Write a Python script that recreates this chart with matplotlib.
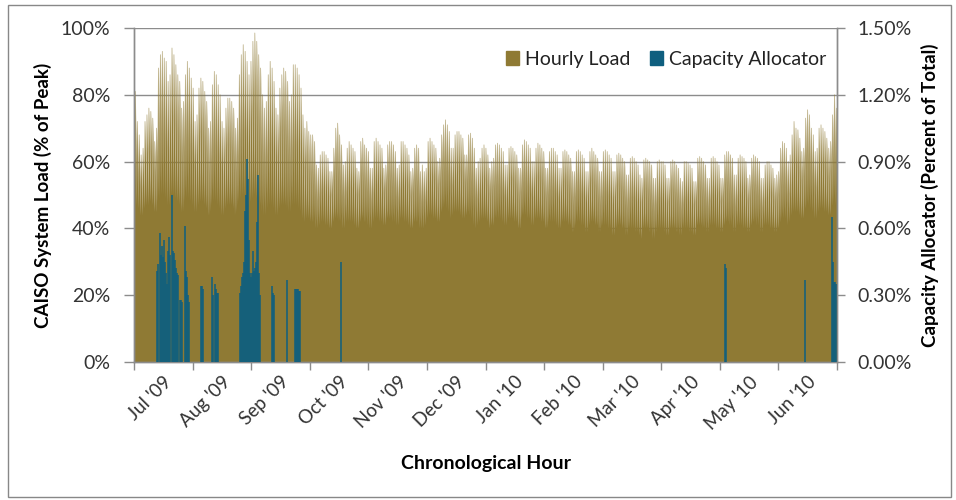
import numpy as np
import matplotlib
matplotlib.use("Agg")
import matplotlib.pyplot as plt
from matplotlib.patches import Patch, Rectangle
from matplotlib.ticker import PercentFormatter

plt.rcParams['font.family'] = ['Lato', 'DejaVu Sans']

# daily peak load, % of annual peak (Jul 2009 - Jun 2010)
peak_jul = [81, 72, 68, 62, 64, 72, 74, 76, 75, 73, 66, 70, 88, 92, 93, 91, 90, 84, 86, 94,
            92, 89, 86, 84, 76, 78, 86, 90, 88, 85, 82]
peak_aug = [72, 74, 82, 85, 84, 81, 78, 70, 72, 83, 87, 86, 83, 80, 72, 70, 76, 79, 79, 78,
            76, 70, 73, 86, 92, 95, 93, 90, 86, 90, 96]
peak_sep = [98.5, 96, 92, 88, 80, 76, 78, 86, 90, 88, 84, 76, 74, 82, 86, 88, 87, 84, 78, 80,
            89, 89, 88, 86, 82, 74, 70, 72, 69, 68]
peak_oct = [68, 66, 59, 58, 62, 63, 63, 62, 61, 57, 57, 64, 70, 71.5, 68, 65, 59, 60, 64, 66,
            65, 64, 63, 58, 57, 66, 67, 65, 64, 63, 58]
peak_nov = [58, 66, 67, 66, 65, 64, 58, 59, 65, 66, 66, 65, 63, 58, 59, 66, 66, 65, 64, 62,
            57, 58, 64, 65, 64, 57, 59, 57, 58, 66]
peak_dec = [67, 66, 65, 64, 60, 61, 68, 71, 72.5, 71, 69, 64, 64, 68, 69, 69, 68, 67, 62, 62,
            68, 68.5, 67, 64, 58, 60, 61, 64, 65, 64, 62]
peak_jan = [58, 60, 61, 65, 65.5, 65, 64, 63, 59, 59, 64, 64.5, 64, 63, 62, 58, 58, 65, 66.5, 66,
            65, 64, 60, 60, 64, 65.5, 65, 64, 63, 58, 58]
peak_feb = [63, 64, 64, 63, 62, 58, 58, 63, 63.5, 63, 62, 61, 57, 57, 63, 63.5, 63, 62, 61, 57,
            57, 63, 64, 63, 62, 61, 57, 57]
peak_mar = [63, 63.5, 63, 62, 61, 57, 57, 62, 62.5, 62, 61, 60, 56, 56, 61, 61.5, 61, 60, 59, 56,
            55, 60.5, 61, 60.5, 60, 59, 55, 55, 60, 60.5, 60]
peak_apr = [60, 59, 55, 55, 60, 60.5, 60, 59, 58, 55, 54, 60, 60, 59.5, 59, 58, 54, 54, 61, 61.5,
            61, 60, 59, 55, 55, 61, 61.5, 61, 60, 59]
peak_may = [55, 55, 62, 63, 63, 62, 61, 56, 56, 61, 62, 61.5, 61, 60, 55, 56, 61, 62, 61.5, 61,
            60, 55, 55, 59, 60, 60, 59, 58, 55, 56, 57]
peak_jun = [64, 66, 65.5, 64, 60, 62, 68, 72, 70, 69.5, 67, 63, 64, 73, 75.5, 74, 70, 68, 63, 64,
            70, 71, 70, 69, 67, 64, 66, 74, 80, 76]

# daily overnight minimum load, % of annual peak
low_jul = [48, 47, 46, 44, 44, 46, 47, 47, 48, 47, 45, 45, 48, 49, 50, 50, 49, 47, 47, 50,
           50, 49, 48, 47, 45, 45, 48, 49, 49, 48, 47]
low_aug = [45, 45, 47, 48, 48, 47, 46, 44, 44, 47, 48, 48, 47, 46, 44, 44, 46, 47, 47, 47,
           46, 44, 45, 48, 49, 50, 50, 49, 47, 48, 49]
low_sep = [50, 49, 48, 47, 45, 44, 44, 46, 47, 47, 46, 44, 44, 46, 47, 47, 47, 46, 45, 45,
           47, 47, 47, 46, 45, 43, 42, 43, 43, 42]
low_oct = [42, 42, 40, 40, 41, 42, 42, 41, 41, 40, 40, 42, 43, 43, 42, 42, 40, 40, 42, 42,
           42, 42, 41, 40, 40, 42, 43, 42, 42, 41, 40]
low_nov = [40, 42, 43, 43, 42, 42, 41, 41, 43, 43, 43, 42, 42, 41, 41, 43, 43, 42, 42, 41,
           40, 40, 42, 42, 42, 40, 40, 40, 41, 43]
low_dec = [44, 44, 43, 43, 42, 42, 45, 46, 47, 46, 45, 43, 44, 45, 45, 45, 44, 43, 43, 44,
           45, 44, 43, 41, 40, 41, 42, 43, 43, 43, 42]
low_jan = [40, 41, 41, 43, 43, 43, 43, 42, 41, 41, 43, 43, 43, 42, 42, 40, 40, 43, 44, 44,
           43, 43, 41, 41, 43, 43, 43, 42, 42, 40, 40]
low_feb = [42, 42, 42, 42, 41, 40, 40, 42, 42, 42, 41, 41, 39, 39, 41, 42, 42, 41, 41, 39,
           39, 41, 42, 42, 41, 41, 39, 39]
low_mar = [41, 41, 41, 40, 40, 38, 38, 40, 41, 41, 40, 40, 38, 38, 40, 40, 40, 39, 39, 38,
           37, 40, 40, 40, 39, 39, 37, 37, 39, 40, 40]
low_apr = [40, 39, 38, 38, 40, 40, 40, 39, 39, 38, 38, 40, 40, 40, 39, 39, 38, 38, 41, 41,
           41, 40, 40, 39, 39, 41, 41, 41, 40, 40]
low_may = [39, 39, 41, 42, 42, 41, 41, 39, 39, 41, 41, 41, 40, 40, 39, 39, 41, 42, 42, 41,
           41, 39, 39, 41, 41, 41, 40, 40, 39, 39, 40]
low_jun = [42, 43, 43, 43, 41, 42, 44, 45, 45, 45, 44, 43, 43, 46, 47, 47, 46, 45, 43, 43,
           45, 46, 46, 45, 45, 44, 44, 47, 48, 47]

# capacity allocator: hour of year and share of total (%)
alloc_hour = [287, 299, 324, 336, 349, 361, 374, 386, 399, 411, 424, 436, 449, 473, 486, 498,
              511, 523, 536, 548, 573, 586, 598, 635, 648, 660, 673, 685,
              835, 847, 860, 972, 984, 1009, 1022, 1034, 1047,
              1321, 1333, 1346, 1358, 1371, 1383, 1396, 1408, 1420, 1433, 1445, 1458, 1470,
              1483, 1495, 1508, 1520, 1533, 1545, 1558, 1570,
              1719, 1732, 1744, 1906, 2006, 2019, 2031, 2043, 2056, 2068, 2579,
              7364, 7376, 8361, 8697, 8710, 8722, 8735, 8747]
alloc_pct = [0.41, 0.44, 0.58, 0.48, 0.52, 0.47, 0.55, 0.45, 0.40, 0.35, 0.50, 0.56, 0.48, 0.75,
             0.50, 0.49, 0.46, 0.42, 0.40, 0.39, 0.28, 0.28, 0.27, 0.61, 0.41, 0.38, 0.30, 0.27,
             0.34, 0.34, 0.33, 0.38, 0.30, 0.35, 0.33, 0.31, 0.31,
             0.31, 0.34, 0.38, 0.40, 0.45, 0.68, 0.75, 0.91, 0.82, 0.55, 0.40, 0.38, 0.40,
             0.50, 0.41, 0.42, 0.45, 0.63, 0.84, 0.40, 0.30,
             0.34, 0.31, 0.30, 0.37, 0.33, 0.33, 0.33, 0.33, 0.32, 0.32, 0.45,
             0.44, 0.42, 0.37, 0.65, 0.45, 0.36, 0.36, 0.35]

month_labels = ["Jul '09", "Aug '09", "Sep '09", "Oct '09", "Nov '09", "Dec '09",
                "Jan '10", "Feb '10", "Mar '10", "Apr '10", "May '10", "Jun '10"]

OLIVE = '#8f7a34'
BLUE = '#0f5f7f'
GRID = '#8c8c8c'
TEXT = '#333333'


def main():
    peaks = np.concatenate([peak_jul, peak_aug, peak_sep, peak_oct, peak_nov, peak_dec,
                            peak_jan, peak_feb, peak_mar, peak_apr, peak_may, peak_jun]) / 100
    lows = np.concatenate([low_jul, low_aug, low_sep, low_oct, low_nov, low_dec,
                           low_jan, low_feb, low_mar, low_apr, low_may, low_jun]) / 100
    days = np.arange(len(peaks))

    # overnight low at 4am, daily peak at 5pm
    hours = np.column_stack([days * 24 + 4, days * 24 + 17]).ravel()
    load = np.column_stack([lows, peaks]).ravel()
    hours = np.concatenate([[0], hours, [8760]])
    load = np.concatenate([[lows[0]], load, [lows[-1]]])

    fig = plt.figure(figsize=(9.56, 5.0), dpi=100)
    ax = fig.add_axes([0.1402, 0.276, 0.7353, 0.668])
    ax2 = ax.twinx()

    ax.fill_between(hours, 0, load, color=OLIVE, lw=0, zorder=2)
    ax.plot(hours, load, color=OLIVE, lw=0.6, alpha=0.55, zorder=2)
    ax.set_xlim(0, 8760)
    ax.set_ylim(0, 1)
    ax.set_yticks(np.arange(0, 1.01, 0.2))
    ax.yaxis.set_major_formatter(PercentFormatter(1.0, decimals=0))
    ax.grid(axis='y', color=GRID, lw=1, zorder=1)
    ax.set_axisbelow(True)

    # month ticks every 730 hours, labels between the ticks
    ax.set_xticks(np.arange(0, 8761, 730))
    ax.set_xticks(np.arange(365, 8760, 730), minor=True)
    ax.set_xticklabels([])
    ax.set_xticklabels(month_labels, minor=True, rotation=45, ha='right', va='top',
                       rotation_mode='anchor', fontsize=13.5, color=TEXT)
    ax.tick_params(axis='x', which='major', length=6, color=GRID, width=1)
    ax.tick_params(axis='x', which='minor', length=0, pad=8)
    ax.tick_params(axis='y', length=7, color=GRID, width=1, labelsize=14,
                   labelcolor=TEXT, pad=10)

    ax2.vlines(alloc_hour, 0, np.array(alloc_pct) / 100, color=BLUE, lw=1.1, zorder=3)
    ax2.set_ylim(0, 0.015)
    ax2.set_yticks(np.arange(0, 0.0151, 0.003))
    ax2.yaxis.set_major_formatter(PercentFormatter(1.0, decimals=2))
    ax2.tick_params(axis='y', length=6, color=GRID, width=1, labelsize=14,
                    labelcolor=TEXT, pad=9)

    for a in (ax, ax2):
        a.spines['top'].set_visible(False)
        for side in ('left', 'right', 'bottom'):
            a.spines[side].set_color(GRID)
            a.spines[side].set_linewidth(1)

    ax.set_xlabel('Chronological Hour', fontsize=14, fontweight='bold', labelpad=16)
    ax.set_ylabel('CAISO System Load (% of Peak)', fontsize=13.5, fontweight='bold', labelpad=6)
    ax2.set_ylabel('Capacity Allocator (Percent of Total)', fontsize=13.5, fontweight='bold',
                   labelpad=6)

    handles = [Patch(color=OLIVE, label='Hourly Load'),
               Patch(color=BLUE, label='Capacity Allocator')]
    ax2.legend(handles=handles, loc='upper right', bbox_to_anchor=(1.01, 0.985), ncol=2,
               frameon=False, fontsize=14, handlelength=0.7, handleheight=0.7,
               handletextpad=0.3, columnspacing=1.0, labelcolor='#222222')

    # outer chart border
    fig.patches.append(Rectangle((8 / 956, 3 / 500), 943 / 956, 492 / 500, fill=False,
                                 edgecolor='#888888', lw=1, transform=fig.transFigure))

    fig.savefig('out.png', dpi=100)


if __name__ == "__main__":
    main()
